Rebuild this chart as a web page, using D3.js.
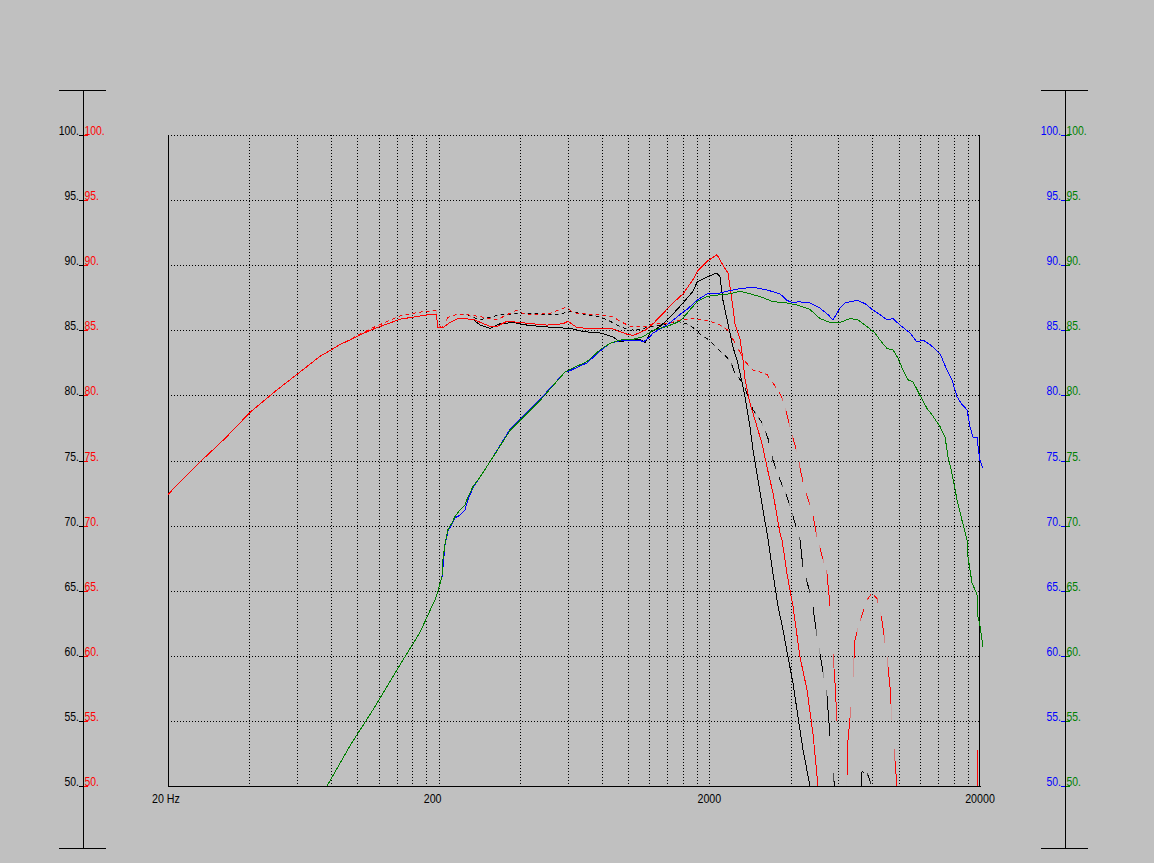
<!DOCTYPE html>
<html>
<head>
<meta charset="utf-8">
<script src="https://cdn.jsdelivr.net/npm/d3@7"></script>
<style>
  html, body { margin: 0; padding: 0; background: #c0c0c0; }
  svg { display: block; }
  text { font-family: "Liberation Sans", Arial, sans-serif; font-size: 13px; }
</style>
</head>
<body>
<svg id="chart" width="1154" height="863"></svg>
<script>
// ---------------- DATA ----------------
const freqTicks = [20, 200, 2000, 20000];
const freqTickLabels = ["20 Hz", "200", "2000", "20000"];
const dbTicks = [50, 55, 60, 65, 70, 75, 80, 85, 90, 95, 100];

// [frequency Hz, level dB]
const redSolid = [
  [20,72.4],[26.3,74.9],[32.5,76.7],[40.2,78.7],[49.7,80.3],[61.5,81.8],[72.9,83.0],[86.4,83.9],
  [111.5,85.0],[143.9,85.85],[170.6,86.1],[190.6,86.25],[196,86.2],[198.9,85.2],[207.5,85.2],
  [220.3,85.6],[235.7,85.9],[267.8,85.85],[309.5,85.3],[328.5,85.3],[357.7,85.7],[399.5,85.6],
  [446.2,85.5],[502.6,85.4],[576.2,85.5],[601.1,85.7],[648.9,85.2],[789.4,85.1],[881.3,85.1],
  [992.6,84.7],[1045,84.6],[1157,85.0],[1239,85.5],[1349,86.3],[1468,87.1],[1599,87.8],
  [1741,88.9],[1817,89.6],[1961,90.3],[2134,90.8],[2246,90.0],[2344,89.4],[2425,87.3],
  [2488,85.5],[2598,84.3],[2664,82.7],[2710,81.2],[2826,79.4],[3000,77.6],[3130,76.3],
  [3266,74.5],[3438,72.5],[3650,69.4],[3712,68.9],[3873,66.3],[4075,63.8],[4325,59.9],
  [4590,57.4],[4831,54.0],[5041,50.0],[5400,42],[19300,42],[19496,50.0],[19662,52.8]
];
const blackSolid = [
  [235.7,85.9],[267.8,85.85],[284.3,85.4],[309.5,85.15],[337,85.5],[376.4,85.6],
  [424,85.4],[473.6,85.3],[547.4,85.2],[611.4,85.15],[682.8,84.9],[789.4,84.8],[881.3,84.5],
  [935.4,84.1],[1018,84.3],[1109,84.3],[1157,84.05],[1207,84.8],[1315,85.3],[1431,86.0],
  [1599,87.1],[1741,88.0],[1801,88.7],[1961,89.1],[2134,89.4],[2190,89.1],[2246,87.3],
  [2344,85.5],[2446,83.7],[2532,82.7],[2598,81.7],[2710,79.9],[2826,77.6],[2900,75.8],
  [3026,73.5],[3157,71.2],[3294,69.0],[3438,66.3],[3588,63.8],[3744,62.0],[3906,59.9],
  [4075,57.9],[4252,55.3],[4436,52.8],[4708,50.0],[5000,45]
];
const redDash = [
  [20,72.4],[26.3,74.9],[32.5,76.7],[40.2,78.7],[49.7,80.3],[61.5,81.8],[72.9,83.0],[86.4,83.9],
  [111.5,85.1],[143.9,86.1],[170.6,86.4],[190.6,86.5],[196,86.5],[198.9,85.4],[205.7,85.2],
  [216.5,86.0],[235.7,86.25],[254.5,86.2],[284.3,86.05],[328.5,85.8],[357.7,86.2],[389.4,86.55],
  [409.8,86.3],[446.2,86.2],[515.6,86.3],[596,86.8],[627.2,86.35],[706.5,86.25],[789.4,86.2],
  [881.3,86.05],[935.4,85.7],[1018,85.3],[1109,85.25],[1177,85.3],[1239,85.5],[1395,85.5],
  [1558,85.8],[1741,85.9],[1848,85.8],[2011,85.7],[2190,85.4],[2344,85.0],[2710,82.6],
  [2900,81.95],[3078,81.8],[3266,81.6],[3408,81.05],[3588,80.4],[3712,79.8],[3873,78.5],
  [4040,76.95],[4252,75.4],[4325,74.4],[4512,72.7],[4790,71.2],[4998,69.1],[5443,66.3],
  [5584,63.8],[5680,61.2],[5827,57.9],[5977,53.5],[6150,46],[6350,46],[6507,53.5],[6732,56.9],
  [6905,61.2],[7206,62.7],[7648,64.3],[7980,64.8],[8327,64.4],[8690,62.7],[9068,59.9],
  [9302,57.6],[9542,53.8],[9872,50.0],[10300,45]
];
const blackDash = [
  [235.7,86.25],[254.5,86.2],[284.3,85.8],[337,86.2],[376.4,86.25],[424,86.3],
  [473.6,86.25],[547.4,86.2],[611.4,86.45],[682.8,86.25],[789.4,86.05],[859,85.7],[935.4,85.3],
  [1018,85.0],[1109,85.1],[1239,85.3],[1395,85.5],[1519,85.7],[1654,85.5],[1801,85.0],
  [1848,84.7],[2011,84.2],[2190,83.4],[2384,82.7],[2488,81.7],[2664,80.95],[2900,78.9],
  [3130,77.9],[3294,76.7],[3438,75.0],[3650,73.5],[3873,72.2],[4040,71.0],[4252,69.4],
  [4325,68.9],[4436,66.8],[4790,64.3],[4998,61.5],[5216,59.2],[5443,56.9],[5584,53.8],
  [5729,51.0],[5876,49.0],[6100,45],[7100,45],[7330,51.1],[7648,51.0],[7980,50.0],[8200,46]
];
const green = [
  [77.4,50.0],[94.1,53.1],[116.4,56.1],[143.9,59.3],[170.6,61.8],[193.8,64.3],[198.9,65.0],
  [205.7,66.1],[207.5,67.4],[211.1,68.6],[216.5,69.7],[224,70.2],[229.8,70.7],[239.8,71.2],
  [250.2,71.6],[256.7,72.2],[267.8,73.0],[279.5,73.5],[309.5,74.9],[366.9,77.3],[473.6,79.6],
  [586,81.8],[611.4,82.0],[706.5,82.6],[789.4,83.5],[859,84.0],[935.4,84.25],[1045,84.3],
  [1138,84.5],[1239,85.0],[1395,85.3],[1558,85.7],[1654,86.3],[1801,87.2],[1961,87.6],
  [2134,87.7],[2384,87.8],[2598,88.0],[2826,87.8],[3078,87.6],[3438,87.2],[3873,87.1],
  [4216,86.95],[4708,86.6],[5128,85.9],[5584,85.6],[6080,85.6],[6618,85.9],[7084,85.8],
  [7519,85.4],[8186,84.8],[8540,84.25],[9068,83.6],[9542,83.5],[9956,82.85],[10390,81.95],
  [10840,81.2],[11312,81.05],[12006,80.0],[12742,79.0],[13412,78.4],[14236,77.6],[14856,76.8],
  [15232,75.3],[15760,74.0],[16444,72.0],[17160,70.4],[17904,68.9],[18058,67.6],[18684,65.6],
  [19496,64.7],[19662,63.0],[20000,62.3],[20518,60.7]
];
const blue = [
  [205.7,66.0],[211.1,68.5],[216.5,69.6],[224,70.1],[229.8,70.6],[239.8,70.8],[250.2,71.2],
  [256.7,72.0],[267.8,72.9],[279.5,73.5],[309.5,74.9],[366.9,77.4],[473.6,79.7],[586,81.8],
  [611.4,81.9],[706.5,82.5],[789.4,83.4],[859,84.0],[935.4,84.2],[1045,84.2],[1109,84.25],
  [1138,84.1],[1207,84.5],[1239,84.8],[1395,85.4],[1599,86.4],[1654,86.6],[1801,87.3],
  [1961,87.8],[2134,87.8],[2324,88.0],[2598,88.2],[2900,88.3],[3266,88.1],[3650,87.8],
  [3873,87.3],[4075,87.1],[4252,87.2],[4708,87.1],[5128,86.7],[5490,86.2],[5729,85.8],
  [6080,86.7],[6343,87.1],[6618,87.2],[7084,87.3],[7583,87.0],[8048,86.55],[8540,86.2],
  [9068,85.8],[9542,85.9],[10128,85.4],[11026,84.8],[11704,84.1],[12318,84.25],[13072,83.9],
  [13412,83.7],[14236,83.2],[15102,81.95],[15760,81.2],[16444,79.9],[17160,79.3],[17904,78.9],
  [18368,77.6],[18844,76.8],[19496,76.8],[19662,76.1],[20000,75.0],[20518,74.4]
];

// ---------------- LAYOUT ----------------
const svg = d3.select("#chart");
const W = 1154, H = 863;
const plot = { left: 168, right: 980, top: 135, bottom: 786 };
const x = d3.scaleLog().domain([20, 20000]).range([plot.left, plot.right]);
const y = d3.scaleLinear().domain([50, 100]).range([plot.bottom, plot.top]);
const px = v => Math.round(v) + 0.5;

svg.append("rect").attr("width", W).attr("height", H).attr("fill", "#c0c0c0");

// grid
const gridFreqs = [];
[20, 200, 2000].forEach(base => { for (let k = 2; k <= 10; k++) gridFreqs.push(base * k); });
const grid = svg.append("g").attr("stroke", "#000").attr("stroke-width", 1)
  .attr("stroke-dasharray", "1,2").attr("shape-rendering", "crispEdges");
grid.selectAll("line.v").data(gridFreqs.filter(f => f < 20000)).enter().append("line")
  .attr("x1", d => px(x(d))).attr("x2", d => px(x(d)))
  .attr("y1", plot.top).attr("y2", plot.bottom);
grid.selectAll("line.h").data(dbTicks.filter(d => d > 50)).enter().append("line")
  .attr("y1", d => px(y(d))).attr("y2", d => px(y(d)))
  .attr("x1", plot.left).attr("x2", plot.right);

// frame (left, bottom, right solid)
const frame = svg.append("g").attr("stroke", "#000").attr("shape-rendering", "crispEdges");
frame.append("line").attr("x1", px(plot.left)).attr("x2", px(plot.left)).attr("y1", plot.top).attr("y2", plot.bottom + 1);
frame.append("line").attr("x1", plot.left).attr("x2", plot.right + 1).attr("y1", px(plot.bottom)).attr("y2", px(plot.bottom));
frame.append("line").attr("x1", px(plot.right - 1)).attr("x2", px(plot.right - 1)).attr("y1", plot.top).attr("y2", plot.bottom + 1);

// clip paths
const defs = svg.append("defs");
defs.append("clipPath").attr("id", "plotClip").append("rect")
  .attr("x", plot.left).attr("y", plot.top).attr("width", 990 - plot.left).attr("height", plot.bottom - plot.top);
const stripes = defs.append("clipPath").attr("id", "dashClip");
const stripeData = [];
for (let i = 0; i < 245; i += 2) stripeData.push([20 * Math.pow(2, i / 24), 20 * Math.pow(2, (i + 1) / 24)]);
stripes.selectAll("rect").data(stripeData).enter().append("rect")
  .attr("x", d => x(d[0])).attr("width", d => x(d[1]) - x(d[0]))
  .attr("y", plot.top).attr("height", plot.bottom - plot.top);

const line = d3.line().x(d => x(d[0])).y(d => y(d[1]));
const curves = svg.append("g").attr("clip-path", "url(#plotClip)");
function draw(data, color, dashed) {
  const p = curves.append("path").datum(data).attr("d", line)
    .attr("fill", "none").attr("stroke", color).attr("stroke-width", 1)
    .attr("shape-rendering", "crispEdges");
  if (dashed) p.attr("clip-path", "url(#dashClip)");
}
draw(blackDash, "#000000", true);
draw(redDash, "#ff0000", true);
draw(blackSolid, "#000000", false);
draw(redSolid, "#ff0000", false);
draw(blue, "#0000ff", false);
draw(green, "#008000", false);

// squeeze text to narrow bitmap-like width
function squeeze(sel, f) {
  sel.each(function () {
    const w = this.getComputedTextLength();
    d3.select(this).attr("textLength", w * f).attr("lengthAdjust", "spacingAndGlyphs");
  });
}

// side axes
function sideAxis(ax, leftColor, rightColor) {
  const g = svg.append("g");
  g.append("line").attr("x1", px(ax)).attr("x2", px(ax)).attr("y1", 90).attr("y2", 849)
    .attr("stroke", "#000").attr("shape-rendering", "crispEdges");
  [90, 848].forEach(yy => g.append("line").attr("x1", ax - 24).attr("x2", ax + 23)
    .attr("y1", yy + 0.5).attr("y2", yy + 0.5).attr("stroke", "#000").attr("shape-rendering", "crispEdges"));
  const t = g.selectAll("g.t").data(dbTicks).enter().append("g");
  t.append("line").attr("x1", ax - 4).attr("x2", ax).attr("y1", d => px(y(d))).attr("y2", d => px(y(d)))
    .attr("stroke", leftColor).attr("shape-rendering", "crispEdges");
  t.append("line").attr("x1", ax + 1).attr("x2", ax + 5).attr("y1", d => px(y(d))).attr("y2", d => px(y(d)))
    .attr("stroke", rightColor).attr("shape-rendering", "crispEdges");
  const l1 = t.append("text").attr("x", ax - 4).attr("y", d => Math.round(y(d)))
    .attr("text-anchor", "end").attr("fill", leftColor).text(d => d + ".");
  const l2 = t.append("text").attr("x", ax + 1.5).attr("y", d => Math.round(y(d)))
    .attr("text-anchor", "start").attr("fill", rightColor).text(d => d + ".");
  squeeze(l1, 0.8); squeeze(l2, 0.8);
}
sideAxis(83, "#000000", "#ff0000");
sideAxis(1065, "#0000ff", "#008000");

// frequency labels
const labelShift = [-16, -6, 0, 0];
const fl = svg.append("g").selectAll("text").data(freqTicks).enter().append("text")
  .attr("x", (d, i) => x(d) + labelShift[i])
  .attr("y", 803)
  .attr("text-anchor", (d, i) => i === 0 ? "start" : "middle")
  .attr("fill", "#000")
  .text((d, i) => freqTickLabels[i]);
squeeze(fl, 0.82);
</script>
</body>
</html>
